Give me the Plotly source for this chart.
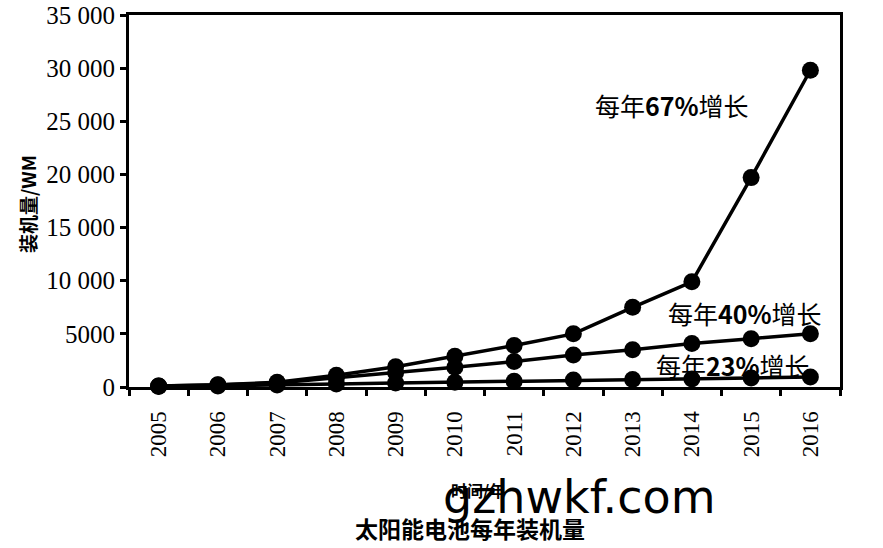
import plotly.graph_objects as go

years = ["2005", "2006", "2007", "2008", "2009", "2010", "2011", "2012", "2013", "2014", "2015", "2016"]
growth67 = [100, 200, 450, 1100, 1900, 2900, 3900, 5000, 7500, 9900, 19700, 29800]
growth40 = [100, 180, 380, 850, 1350, 1850, 2400, 3000, 3500, 4100, 4550, 5000]
growth23 = [50, 100, 180, 280, 380, 450, 550, 650, 700, 750, 850, 950]

ytick_vals = [0, 5000, 10000, 15000, 20000, 25000, 30000, 35000]
ytick_text = ["0", "5000", "10 000", "15 000", "20 000", "25 000", "30 000", "35 000"]

fig = go.Figure()
for ys in (growth23, growth40, growth67):
    fig.add_trace(go.Scatter(
        x=years, y=ys, mode="lines+markers",
        line=dict(color="black", width=3.5),
        marker=dict(color="black", size=17),
        showlegend=False, cliponaxis=False,
    ))

serif = "Liberation Serif, Times New Roman, serif"
cjk = "Noto Sans CJK SC, sans-serif"

fig.update_layout(
    width=883, height=548,
    margin=dict(l=129, r=43, t=15, b=161),
    paper_bgcolor="white", plot_bgcolor="white",
    xaxis=dict(
        type="category", tickson="boundaries", range=[-0.5, 11.5],
        ticks="outside", ticklen=6, tickwidth=3, tickcolor="black",
        tickangle=-90, tickfont=dict(family=serif, size=23, color="black"),
        ticklabelstandoff=12,
        showline=True, linewidth=3, linecolor="black", mirror=True,
        showgrid=False, zeroline=False, automargin=False,
    ),
    yaxis=dict(
        range=[0, 35000], tickvals=ytick_vals, ticktext=ytick_text,
        ticks="outside", ticklen=6, tickwidth=3, tickcolor="black",
        tickfont=dict(family=serif, size=25, color="black"),
        showline=True, linewidth=3, linecolor="black", mirror=True,
        showgrid=False, zeroline=False, automargin=False,
    ),
)

ann = [
    dict(text="每年<b>67%</b>增长", x=0.764, y=0.758),
    dict(text="每年<b>40%</b>增长", x=0.866, y=0.199),
    dict(text="每年<b>23%</b>增长", x=0.849, y=0.059),
]
for a in ann:
    fig.add_annotation(text=a["text"], x=a["x"], y=a["y"], xref="paper", yref="paper",
                       xanchor="center", yanchor="middle", showarrow=False,
                       font=dict(family=cjk, size=25, color="black"))

def add_text(text, x, y, size, family=cjk, angle=0):
    fig.add_annotation(text=text, x=x, y=y, xref="paper", yref="paper",
                       xanchor="center", yanchor="middle", textangle=angle,
                       showarrow=False, font=dict(family=family, size=size, color="black"))

add_text("<b>装机量/WM</b>", -0.142, 0.492, 19, angle=-90)
add_text("<b>时间/年</b>", 0.491, -0.277, 16)
add_text("gzhwkf.com", 0.633, -0.296, 46, family="DejaVu Sans, sans-serif")
add_text("<b>太阳能电池每年装机量</b>", 0.48, -0.379, 23)

fig.write_html("out.html", config={"displayModeBar": False},
               post_script="document.body.style.margin='0';")
